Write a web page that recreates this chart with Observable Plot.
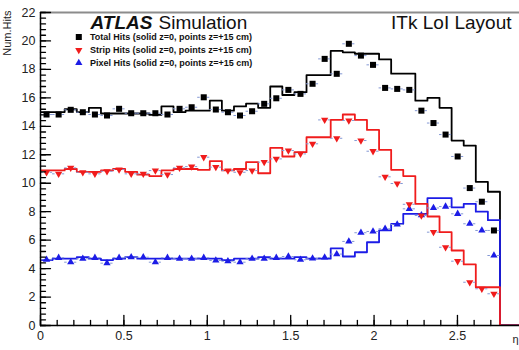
<!DOCTYPE html>
<html>
<head>
<meta charset="utf-8">
<script src="https://cdn.jsdelivr.net/npm/d3@7"></script>
<script src="https://cdn.jsdelivr.net/npm/@observablehq/plot@0.6"></script>
<style>
  body { margin: 0; background: #fff; }
</style>
</head>
<body>
<div id="chart"></div>
<script>
// Pseudorapidity binning: 40 bins of 0.0725 starting at eta = 0
const nBins = 40;
const binWidth = 0.0725;

// Mean number of hits per track, solid histograms (z = 0)
const totalSolid = [15.0, 15.0, 15.2, 15.0, 15.3, 14.9, 14.9, 14.9, 14.9, 14.8,
  15.4, 15.0, 15.1, 15.1, 15.8, 15.1, 15.4, 15.6, 15.3, 16.8,
  16.2, 16.4, 17.6, 17.6, 19.3, 19.2, 19.1, 19.1, 18.7, 17.7,
  17.7, 15.8, 16.0, 15.3, 13.0, 12.65, 10.1, 9.4, 0, 0];
const stripSolid = [10.9, 10.9, 11.0, 10.8, 10.8, 10.9, 11.0, 10.8, 10.6, 10.5,
  10.9, 11.0, 11.0, 10.94, 11.55, 10.9, 11.0, 11.48, 10.7, 12.49,
  11.88, 12.18, 13.23, 13.23, 14.45, 14.83, 14.45, 13.75, 12.35, 10.94,
  10.5, 8.55, 7.66, 6.56, 5.27, 4.29, 2.69, 2.69, 0, 0];
const pixelSolid = [4.6, 4.7, 4.7, 4.8, 4.7, 4.6, 4.7, 4.8, 4.7, 4.7,
  4.7, 4.7, 4.7, 4.7, 4.7, 4.6, 4.7, 4.7, 4.8, 4.7,
  4.7, 4.8, 4.7, 4.7, 5.42, 4.85, 5.15, 5.85, 6.68, 7.15,
  7.85, 7.85, 8.95, 8.95, 8.3, 8.55, 8.0, 7.4, 0, 0];

// Markers: same quantities for vertices displaced to z = +15 cm
const totalPoints = [14.83, 14.83, 15.16, 14.99, 14.83, 14.76, 15.23, 14.92, 14.92, 14.92,
  14.83, 15.23, 15.34, 16.04, 15.18, 14.99, 14.76, 15.06, 15.58, 15.97,
  16.56, 16.28, 16.99, 18.74, 17.69, 19.8, 18.97, 18.32, 16.7, 16.63,
  16.56, 15.1, 14.23, 13.42, 11.88, 9.66, 8.7, 6.68];
const stripPoints = [10.77, 10.66, 11.08, 10.77, 10.66, 10.84, 10.96, 10.66, 10.66, 10.89,
  10.61, 11.08, 11.17, 11.83, 11.13, 10.89, 10.77, 10.89, 11.48, 11.71,
  12.3, 12.06, 12.77, 14.45, 13.16, 14.41, 13.0, 12.25, 10.45, 9.98,
  8.52, 7.73, 6.56, 5.5, 4.52, 3.04, 2.58, 2.23];
const pixelPoints = [4.62, 4.76, 4.45, 4.69, 4.76, 4.38, 4.76, 4.8, 4.8, 4.45,
  4.76, 4.69, 4.69, 4.76, 4.57, 4.52, 4.45, 4.69, 4.69, 4.76,
  4.85, 4.62, 4.72, 4.78, 5.02, 5.91, 6.52, 6.61, 6.8, 7.1,
  8.2, 7.75, 8.26, 8.36, 7.85, 7.15, 6.68, 4.92];

// Axis ticks and labels
const xDomain = [0, 2.872];
const yDomain = [0, 22];
const xMajorTicks = [0, 0.5, 1, 1.5, 2, 2.5];
const xTickLabels = ["0", "0.5", "1", "1.5", "2", "2.5"];
const xMinorTicks = d3.range(0, 28).map(i => i / 10);
const yMajorTicks = d3.range(0, 23, 2);
const yMinorTicks = d3.range(0, 56).map(i => i * 0.4);

const legendLabels = [
  "Total Hits (solid z=0, points z=+15 cm)",
  "Strip Hits (solid z=0, points z=+15 cm)",
  "Pixel Hits (solid z=0, points z=+15 cm)"
];

const colors = {total: "#000000", strip: "#f01c1c", pixel: "#1c1ce6"};
const errColor = "#8498d4";

// Step outline: one vertex per bin edge, last edge repeats the final bin
const edges = d3.range(nBins + 1).map(i => i * binWidth);
const stepData = vals => edges.map((e, i) => ({x: e, y: vals[Math.min(i, nBins - 1)]}));
const pointData = vals => vals.map((v, i) => ({
  x: edges[i] + binWidth / 2, lo: edges[i], hi: edges[i + 1], y: v
}));

const tickShape = {draw(ctx, l) { ctx.moveTo(0, 0); ctx.lineTo(0, -l); }};

const histLine = (vals, color) => Plot.lineY(stepData(vals), {
  x: "x", y: "y", curve: "step-after", stroke: color, strokeWidth: 1.8, clip: true
});
const errBars = vals => Plot.ruleY(pointData(vals), {
  x1: "lo", x2: "hi", y: "y", stroke: errColor, strokeWidth: 1,
  strokeDasharray: "2.5 7.1 2.5", clip: true
});

const legendRowsDy = [24.5, 37.5, 50.5];
const legendSymbols = [
  {symbol: "square", r: 3.4, rotate: 0, fill: colors.total},
  {symbol: "triangle", r: 2.7, rotate: 180, fill: colors.strip},
  {symbol: "triangle", r: 2.7, rotate: 0, fill: colors.pixel}
];

const font = "'Liberation Sans', Arial, Helvetica, sans-serif";

const chart = Plot.plot({
  width: 519,
  height: 350,
  marginLeft: 40,
  marginRight: 0,
  marginTop: 12,
  marginBottom: 25,
  style: {fontFamily: font, background: "#fff"},
  x: {domain: xDomain, axis: null},
  y: {domain: yDomain, axis: null},
  marks: [
    // frame
    Plot.ruleY([yDomain[1]], {stroke: "#8c8c8c", strokeWidth: 2}),
    // histograms
    histLine(totalSolid, colors.total),
    histLine(pixelSolid, colors.pixel),
    histLine(stripSolid, colors.strip),
    // horizontal error bars of the markers
    errBars(totalPoints),
    errBars(pixelPoints),
    errBars(stripPoints),
    Plot.dot(pointData(totalPoints), {x: "x", y: "y", symbol: "square", r: 3.4, fill: colors.total}),
    Plot.dot(pointData(pixelPoints), {x: "x", y: "y", symbol: "triangle", r: 2.7, fill: colors.pixel}),
    Plot.dot(pointData(stripPoints), {x: "x", y: "y", symbol: "triangle", rotate: 180, r: 2.7, fill: colors.strip}),
    // axes lines
    Plot.ruleX([xDomain[0]], {stroke: "#000", strokeWidth: 1.5}),
    Plot.ruleY([yDomain[0]], {stroke: "#000", strokeWidth: 1.5}),
    // inward ticks
    Plot.vector(yMajorTicks, {y: d => d, frameAnchor: "left", length: 10, rotate: 90, anchor: "start", shape: tickShape, stroke: "#000", strokeWidth: 1.3}),
    Plot.vector(yMinorTicks, {y: d => d, frameAnchor: "left", length: 5, rotate: 90, anchor: "start", shape: tickShape, stroke: "#000", strokeWidth: 1.3}),
    Plot.vector(xMajorTicks, {x: d => d, frameAnchor: "bottom", length: 10, anchor: "start", shape: tickShape, stroke: "#000", strokeWidth: 1.3}),
    Plot.vector(xMinorTicks, {x: d => d, frameAnchor: "bottom", length: 5, anchor: "start", shape: tickShape, stroke: "#000", strokeWidth: 1.3}),
    // tick labels
    Plot.axisY(yMajorTicks, {tickSize: 0, tickPadding: 5, fontSize: 12.5, fill: "#222", label: null}),
    Plot.axisX(xMajorTicks, {tickSize: 0, tickPadding: 6, fontSize: 12.5, fill: "#222", label: null,
      tickFormat: d => xTickLabels[xMajorTicks.indexOf(d)]}),
    // axis titles
    Plot.text(["Num.Hits"], {text: d => d, frameAnchor: "top-left", rotate: -90, textAnchor: "end",
      lineAnchor: "bottom", dx: -30, dy: -2, fontSize: 11, fill: "#222"}),
    Plot.text(["η"], {text: d => d, frameAnchor: "bottom-right", textAnchor: "end", lineAnchor: "top",
      dx: -1, dy: 10, fontSize: 11, fill: "#222"}),
    // headline texts
    Plot.text(["ATLAS"], {text: d => d, frameAnchor: "top-left", textAnchor: "start", lineAnchor: "top",
      dx: 50, dy: 2.5, fontSize: 19, fontWeight: "bold", fontStyle: "italic", fill: "#111"}),
    Plot.text(["Simulation"], {text: d => d, frameAnchor: "top-left", textAnchor: "start", lineAnchor: "top",
      dx: 118, dy: 2.5, fontSize: 19, fill: "#111"}),
    Plot.text(["ITk LoI Layout"], {text: d => d, frameAnchor: "top-right", textAnchor: "end", lineAnchor: "top",
      dx: -8, dy: 2.5, fontSize: 19, fill: "#111"}),
    // legend
    ...legendLabels.flatMap((label, i) => [
      Plot.dot([label], {frameAnchor: "top-left", dx: 38.3, dy: legendRowsDy[i],
        symbol: legendSymbols[i].symbol, r: legendSymbols[i].r, rotate: legendSymbols[i].rotate,
        fill: legendSymbols[i].fill}),
      Plot.text([label], {text: d => d, frameAnchor: "top-left", textAnchor: "start", lineAnchor: "middle",
        dx: 49.5, dy: legendRowsDy[i], fontSize: 9, fontWeight: "bold", fill: "#111"})
    ])
  ]
});

document.getElementById("chart").appendChild(chart);
</script>
</body>
</html>
